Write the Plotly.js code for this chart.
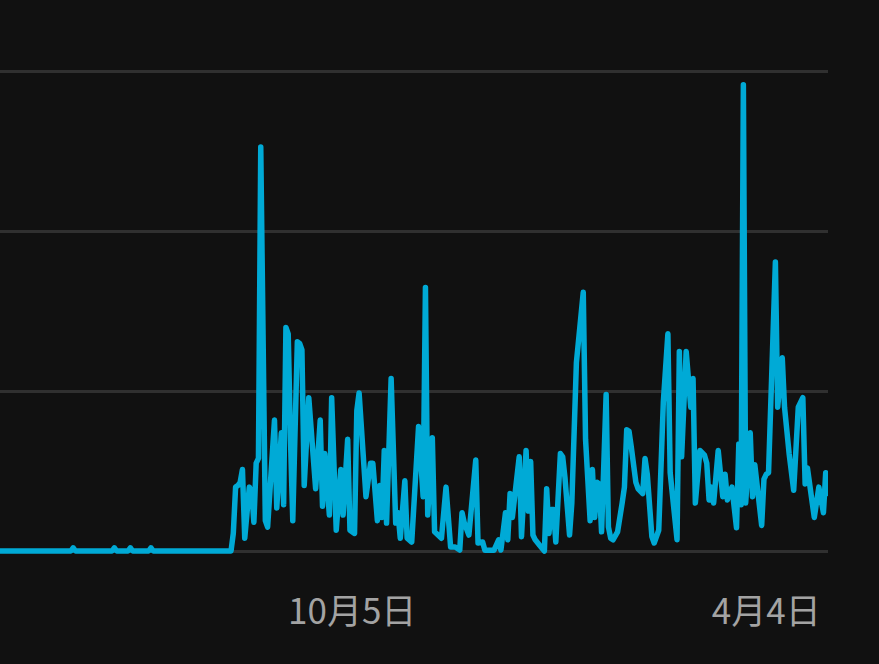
<!DOCTYPE html>
<html>
<head>
<meta charset="utf-8">
<script src="https://cdn.plot.ly/plotly-3.0.1.min.js"></script>
<style>
  html, body { margin: 0; padding: 0; background: #111111; }
  #chart { width: 879px; height: 664px; }
  path.js-line { stroke-linejoin: round !important; stroke-linecap: round !important; }
</style>
</head>
<body>
<div id="chart"></div>
<script>
// Day offsets from the first day of the series (2022-05-04)
const startDate = [2022, 4, 4];
const dayOffsets = [
  0, 31, 32, 33, 49, 50, 51, 56, 57, 58, 65, 66, 67, 101,
  102, 103, 104, 105, 106, 107, 109, 110, 111, 112, 113, 114, 116, 117, 120, 121,
  123, 124, 125, 126, 127, 128, 130, 131, 132, 133, 135, 136, 137, 138, 140, 141,
  142, 144, 145, 147, 149, 150, 152, 153, 155, 156, 157, 158, 159, 160, 162, 163,
  165, 166, 167, 168, 169, 171, 173, 174, 175, 177, 178, 180, 183, 185, 186, 187,
  189, 190, 193, 195, 197, 199, 201, 202, 203, 205, 208, 209, 211, 212, 216, 218,
  219, 221, 222, 223, 224, 225, 227, 228, 230, 231, 232, 233, 234, 236, 238, 239,
  240, 241, 242, 243, 245, 246, 247, 249, 250, 252, 255, 256, 257, 258, 259, 260,
  261, 262, 263, 265, 266, 267, 268, 269, 270, 272, 273, 274, 275, 276, 277, 278,
  279, 280, 281, 282, 283, 285, 286, 288, 290, 292, 293, 296, 297, 298, 300, 302,
  303, 304, 306, 308, 309, 310, 311, 312, 314, 316, 317, 318, 320, 322, 323, 324,
  325, 326, 327, 328, 329, 330, 333, 334, 335, 336, 339, 340, 342, 343, 345, 347,
  349, 351, 352, 353, 356, 358, 360, 361, 362
];
const values = [
  0, 0, 0.2, 0, 0, 0.2, 0, 0, 0.2, 0, 0, 0.2, 0, 0,
  1.1, 4.0, 4.1, 4.3, 5.1, 0.8, 4.0, 3.8, 1.8, 5.5, 5.8, 25.3, 1.9, 1.5, 8.2, 2.7,
  7.4, 2.9, 14.0, 13.6, 7.0, 1.9, 13.1, 13.0, 12.6, 4.1, 9.6, 7.6, 5.5, 3.9, 8.2, 2.8,
  6.1, 2.25, 9.6, 1.3, 5.1, 2.25, 7.0, 1.3, 1.1, 8.8, 9.9, 8.0, 5.5, 3.4, 5.5, 5.5,
  1.9, 4.1, 2.1, 6.3, 1.75, 10.8, 1.75, 2.4, 0.8, 4.4, 0.8, 0.56, 7.8, 3.4, 16.5, 2.25,
  7.1, 1.2, 0.8, 4.0, 0.25, 0.25, 0.06, 2.4, 1.75, 1.0, 5.7, 0.5, 0.56, 0.05, 0.05, 0.7,
  0.06, 2.4, 0.7, 3.6, 2.1, 3.2, 5.9, 0.9, 6.3, 2.5, 5.6, 1.0, 0.7, 0.35, 0.0, 3.9,
  1.1, 2.6, 2.6, 0.56, 6.1, 5.9, 4.6, 1.0, 3.0, 11.8, 16.2, 7.0, 3.5, 1.9, 5.1, 2.1,
  4.3, 4.2, 1.2, 9.8, 1.5, 0.8, 0.7, 0.9, 1.2, 3.0, 4.0, 7.6, 7.5, 6.5, 5.3, 4.3,
  3.9, 3.7, 3.6, 5.8, 4.8, 0.9, 0.5, 1.3, 9.3, 13.6, 4.9, 0.7, 12.5, 5.9, 12.5, 9.0,
  10.8, 3.0, 6.3, 6.0, 5.5, 3.2, 4.0, 3.0, 6.3, 3.4, 4.8, 3.2, 4.0, 1.45, 6.7, 2.9,
  29.2, 3.0, 5.0, 7.4, 3.4, 5.4, 1.6, 4.5, 4.8, 4.9, 18.1, 9.0, 12.1, 9.0, 6.1, 3.8,
  9.0, 9.6, 4.2, 5.2, 2.1, 4.0, 2.4, 4.9, 3.6
];
const xRange = ['2022-05-04', '2023-05-01'];
const tickDates = ['2022-10-05', '2023-04-04'];
const tickLabels = ['10月5日', '4月4日'];
const gridValues = [0, 10, 20, 30];

function toDate(offset) {
  const d = new Date(Date.UTC(startDate[0], startDate[1], startDate[2] + offset));
  return d.toISOString().slice(0, 10);
}
const dates = dayOffsets.map(toDate);

const trace = {
  type: 'scatter',
  mode: 'lines',
  x: dates,
  y: values,
  line: { color: '#00aad6', width: 5.5 },
  hoverinfo: 'skip'
};

const layout = {
  width: 879,
  height: 664,
  paper_bgcolor: '#111111',
  plot_bgcolor: '#111111',
  margin: { l: 0, r: 51, t: 60, b: 100 },
  showlegend: false,
  xaxis: {
    type: 'date',
    range: xRange,
    tickmode: 'array',
    tickvals: tickDates,
    ticktext: tickLabels,
    showgrid: false,
    zeroline: false,
    showline: false,
    ticks: '',
    ticklabelstandoff: 24,
    tickfont: { family: '"Noto Sans CJK JP", "Noto Sans", sans-serif', size: 35, color: '#a3a3a3' },
    fixedrange: true
  },
  yaxis: {
    range: [-0.814, 30.751],
    tickmode: 'array',
    tickvals: gridValues,
    showticklabels: false,
    showgrid: true,
    gridcolor: '#303030',
    gridwidth: 3,
    zeroline: false,
    showline: false,
    ticks: '',
    fixedrange: true
  }
};

Plotly.newPlot('chart', [trace], layout, { displayModeBar: false, staticPlot: true });
</script>
</body>
</html>
